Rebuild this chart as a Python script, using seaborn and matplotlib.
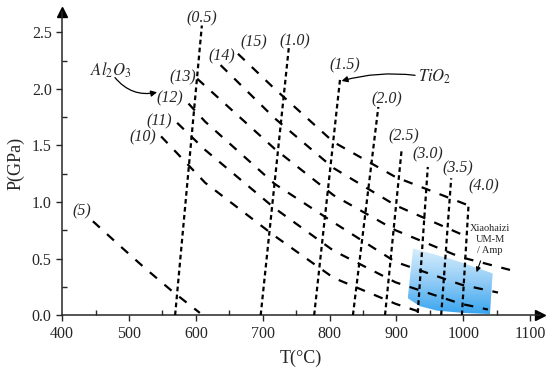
import numpy as np
import pandas as pd
import matplotlib
matplotlib.use("Agg")
import matplotlib.pyplot as plt
import seaborn as sns
from matplotlib.colors import LinearSegmentedColormap
from matplotlib.patches import Polygon

# TiO2 isopleths (dotted, near vertical): end points (bottom, top)
tio2_names = ['(0.5)', '(1.0)', '(1.5)', '(2.0)', '(2.5)', '(3.0)', '(3.5)', '(4.0)']
tio2_T = [[569, 609], [697, 739], [777, 816], [835, 873],
          [883, 908], [932, 947], [967, 982], [998, 1008]]
tio2_P = [[0.0, 2.56], [0.0, 2.36], [0.0, 2.10], [0.0, 1.84],
          [0.0, 1.47], [0.02, 1.31], [0.0, 1.21], [0.0, 0.98]]
tio2_lab_T = [609, 748, 823, 886, 911, 947, 992, 1031]
tio2_lab_P = [2.62, 2.42, 2.21, 1.91, 1.58, 1.42, 1.30, 1.14]

# Al2O3 isopleths (dashed, sloping)
al_names = ['(5)', '(10)', '(11)', '(12)', '(13)', '(14)', '(15)']
al_T = [[446, 485, 523, 565, 606],
        [548, 614, 718, 806, 899, 940],
        [572, 614, 718, 806, 899, 997, 1037],
        [589, 614, 718, 806, 899, 997, 1052],
        [602, 718, 806, 899, 995, 1070],
        [637, 718, 806, 899, 1003],
        [663, 718, 806, 899, 1008]]
al_P = [[0.83, 0.62, 0.42, 0.21, 0.02],
        [1.58, 1.17, 0.70, 0.33, 0.10, 0.02],
        [1.70, 1.46, 0.945, 0.57, 0.29, 0.10, 0.05],
        [1.87, 1.71, 1.16, 0.82, 0.47, 0.27, 0.20],
        [2.09, 1.47, 1.06, 0.75, 0.515, 0.40],
        [2.21, 1.74, 1.30, 0.97, 0.70],
        [2.31, 2.00, 1.53, 1.22, 0.97]]
al_lab_T = [430, 521, 546, 561, 581, 639, 686]
al_lab_P = [0.92, 1.57, 1.71, 1.92, 2.10, 2.29, 2.41]

# Xiaohaizi UM-M / Amp field
box_T = [925, 985, 1044, 1042, 1040, 1000, 961, 935, 917]
box_P = [0.59, 0.49, 0.37, 0.19, 0.01, 0.02, 0.04, 0.08, 0.15]

# long-form tables for seaborn
tio2_df = pd.DataFrame([(n, t, p) for n, ts, ps in zip(tio2_names, tio2_T, tio2_P)
                        for t, p in zip(ts, ps)], columns=['line', 'T', 'P'])
al_df = pd.DataFrame([(n, t, p) for n, ts, ps in zip(al_names, al_T, al_P)
                      for t, p in zip(ts, ps)], columns=['line', 'T', 'P'])

sns.set_style("ticks")
plt.rcParams['font.family'] = ['Liberation Serif', 'DejaVu Serif']
plt.rcParams['mathtext.fontset'] = 'stix'

fig = plt.figure(figsize=(5.5, 3.73), dpi=100)
ax = fig.add_axes([0.113, 0.155, 0.869, 0.813])

# gradient field
poly = Polygon(np.column_stack([box_T, box_P]), closed=True, facecolor='none',
               edgecolor='none', transform=ax.transData)
ax.add_patch(poly)
cmap = LinearSegmentedColormap.from_list('blu', ['#d8eefc', '#92ccf6', '#3aa5ef'])
grad = np.linspace(0, 1, 100).reshape(-1, 1)
im = ax.imshow(grad, cmap=cmap, aspect='auto', origin='upper',
               extent=(min(box_T), max(box_T), min(box_P), max(box_P)), zorder=1)
im.set_clip_path(poly)

sns.lineplot(data=al_df, x='T', y='P', units='line', estimator=None, sort=False,
             color='black', lw=1.6, linestyle=(0, (4.2, 4.4)), ax=ax, zorder=3)
sns.lineplot(data=tio2_df, x='T', y='P', units='line', estimator=None, sort=False,
             color='black', lw=1.6, linestyle=(0, (2.1, 1.5)), ax=ax, zorder=3)

for name, t, p in zip(tio2_names, tio2_lab_T, tio2_lab_P):
    ax.text(t, p, name, fontsize=11.5, style='italic', ha='center', va='center')
for name, t, p in zip(al_names, al_lab_T, al_lab_P):
    ax.text(t, p, name, fontsize=11.5, style='italic', ha='center', va='center')

# annotations
ax.text(473, 2.16, '$Al_2O_3$', fontsize=12, ha='center', va='center')
ax.annotate('', xy=(542, 1.97), xytext=(479, 2.10),
            arrowprops=dict(arrowstyle='-|>', connectionstyle='arc3,rad=0.3',
                            color='k', lw=0.9, mutation_scale=9, shrinkA=0, shrinkB=0))
ax.text(958, 2.11, '$TiO_2$', fontsize=12, ha='center', va='center')
ax.annotate('', xy=(818, 2.07), xytext=(928, 2.12),
            arrowprops=dict(arrowstyle='-|>', connectionstyle='arc3,rad=0.1',
                            color='k', lw=0.9, mutation_scale=9, shrinkA=0, shrinkB=0))
ax.text(1040, 0.67, 'Xiaohaizi\nUM-M\n/ Amp', fontsize=7.5, ha='center', va='center',
        linespacing=1.3)
ax.annotate('', xy=(1020, 0.38), xytext=(1026, 0.48),
            arrowprops=dict(arrowstyle='-|>', color='k', lw=0.8, mutation_scale=7,
                            shrinkA=0, shrinkB=0))

ax.set_xlim(400, 1115)
ax.set_ylim(0, 2.68)
ax.set_xticks(np.arange(400, 1101, 100))
ax.set_xticks(np.arange(450, 1101, 100), minor=True)
ax.set_yticks(np.arange(0, 2.51, 0.5))
ax.set_yticks(np.arange(0.25, 2.6, 0.5), minor=True)
ax.set_yticklabels([f'{v:.1f}' for v in np.arange(0, 2.51, 0.5)])
ax.tick_params(which='major', direction='out', length=4, width=1, labelsize=11.5)
ax.tick_params(which='minor', direction='in', length=3.5, width=1)
sns.despine(ax=ax)
for s in ['left', 'bottom']:
    ax.spines[s].set_linewidth(1.1)
ax.plot(1, 0, '>k', ms=7, transform=ax.transAxes, clip_on=False)
ax.plot(0, 1, '^k', ms=7, transform=ax.transAxes, clip_on=False)

ax.set_xlabel('T(°C)', fontsize=13, labelpad=6)
ax.set_ylabel('P(GPa)', fontsize=13, labelpad=5)

fig.savefig('out.png', dpi=100)
